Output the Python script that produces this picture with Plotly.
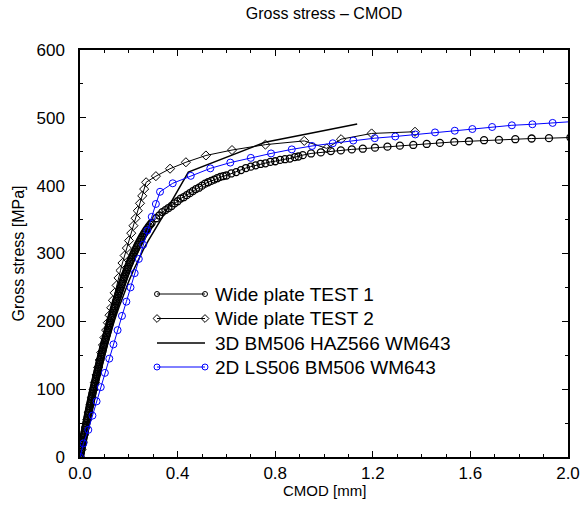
import plotly.graph_objects as go

# Wide plate TEST 1: dense logging up to the knee, sparser afterwards
test1_cmod = [
    0, 0.0013, 0.0025, 0.0038, 0.005, 0.0063, 0.0075, 0.0088, 0.010, 0.0114,
    0.0127, 0.0141, 0.0154, 0.0168, 0.0181, 0.0195, 0.0208, 0.0222, 0.0235, 0.0249,
    0.0262, 0.0276, 0.0289, 0.0303, 0.0317, 0.0332, 0.0346, 0.0360, 0.0374, 0.0389,
    0.0403, 0.0417, 0.0431, 0.0446, 0.0460, 0.0475, 0.0489, 0.0504, 0.0519, 0.0535,
    0.0551, 0.0567, 0.0583, 0.0599, 0.0615, 0.0631, 0.0647, 0.0663, 0.0679, 0.0695,
    0.0711, 0.0727, 0.0743, 0.0759, 0.0774, 0.0791, 0.0807, 0.0824, 0.0841, 0.0859,
    0.0876, 0.0893, 0.0910, 0.0928, 0.0945, 0.0962, 0.0979, 0.0997, 0.1015, 0.1034,
    0.1052, 0.1071, 0.1089, 0.1108, 0.1126, 0.1145, 0.1163, 0.1182, 0.1200, 0.1221,
    0.1241, 0.1261, 0.1281, 0.1302, 0.1322, 0.1342, 0.1362, 0.1383, 0.1403, 0.1423,
    0.1443, 0.1464, 0.1484, 0.1506, 0.1528, 0.1552, 0.1575, 0.1599, 0.1622, 0.1646,
    0.1669, 0.1693, 0.1716, 0.1740, 0.1763, 0.1787, 0.1811, 0.1837, 0.1863, 0.1890,
    0.1916, 0.1942, 0.1968, 0.1996, 0.2024, 0.2053, 0.2082, 0.2112, 0.2141, 0.2171,
    0.2200, 0.2234, 0.2267, 0.2300, 0.2333, 0.2367, 0.2400, 0.2439, 0.2477, 0.2516,
    0.2554, 0.2595, 0.2636, 0.2682, 0.2727, 0.2775, 0.2822, 0.2878, 0.2933,
    0.3125, 0.325, 0.3375, 0.35, 0.3625, 0.375, 0.3875, 0.40, 0.4125, 0.425,
    0.4375, 0.45, 0.4625, 0.475, 0.4875, 0.50, 0.5125, 0.525, 0.5375, 0.55,
    0.5625, 0.575, 0.5875, 0.60, 0.62, 0.64, 0.66, 0.68, 0.70, 0.72,
    0.74, 0.76, 0.78, 0.80, 0.82, 0.84, 0.86, 0.88, 0.895,
    0.913, 0.947, 0.987, 1.028, 1.069, 1.114, 1.159, 1.209, 1.260, 1.311,
    1.366, 1.421, 1.475, 1.534, 1.594, 1.656, 1.717, 1.784, 1.851, 1.922, 2.010,
]
test1_stress = [
    0, 2.5, 5, 7.5, 10, 12.5, 15, 17.5, 20, 22.5,
    25, 27.5, 30, 32.5, 35, 37.5, 40, 42.5, 45, 47.5,
    50, 52.5, 55, 57.5, 60, 62.5, 65, 67.5, 70, 72.5,
    75, 77.5, 80, 82.5, 85, 87.5, 90, 92.5, 95, 97.5,
    100, 102.5, 105, 107.5, 110, 112.5, 115, 117.5, 120, 122.5,
    125, 127.5, 130, 132.5, 135, 137.5, 140, 142.5, 145, 147.5,
    150, 152.5, 155, 157.5, 160, 162.5, 165, 167.5, 170, 172.5,
    175, 177.5, 180, 182.5, 185, 187.5, 190, 192.5, 195, 197.5,
    200, 202.5, 205, 207.5, 210, 212.5, 215, 217.5, 220, 222.5,
    225, 227.5, 230, 232.5, 235, 237.5, 240, 242.5, 245, 247.5,
    250, 252.5, 255, 257.5, 260, 262.5, 265, 267.5, 270, 272.5,
    275, 277.5, 280, 282.5, 285, 287.5, 290, 292.5, 295, 297.5,
    300, 302.5, 305, 307.5, 310, 312.5, 315, 317.5, 320, 322.5,
    325, 327.5, 330, 332.5, 335, 337.5, 340, 342.5, 345,
    352, 356, 361, 364, 367, 370, 374, 377, 381, 383,
    386, 389, 392, 395, 397, 400, 403, 405, 407, 409,
    411, 413, 414, 415, 418, 420, 423, 426, 428, 430,
    432, 433, 435, 436, 438, 439, 440, 442, 443,
    445, 447.5, 449, 451, 452, 453.5, 454.5, 456, 457.5, 459,
    460, 461.5, 463, 464.5, 465.5, 467, 467.5, 468.5, 469.5, 470, 471,
]

# Wide plate TEST 2
test2_cmod = [
    0, 0.006, 0.012, 0.018, 0.024, 0.030, 0.036, 0.042, 0.049, 0.055,
    0.061, 0.068, 0.074, 0.081, 0.087, 0.094, 0.100, 0.107, 0.114, 0.121,
    0.128, 0.135, 0.142, 0.150, 0.158, 0.166, 0.174, 0.183, 0.192, 0.201,
    0.210, 0.219, 0.228, 0.237, 0.246, 0.255, 0.263, 0.271,
    0.311, 0.369, 0.434, 0.516, 0.623, 0.760, 0.919, 1.011, 1.070, 1.195, 1.373,
]
test2_stress = [
    0, 11, 22, 33, 44, 55, 66, 77, 88, 99,
    110, 121, 132, 143, 154, 165, 176, 187, 198, 209,
    220, 231, 242, 253, 264, 275, 286, 297, 308, 319,
    330, 341, 352, 363, 374, 385, 395, 405,
    414, 425, 434.5, 444.5, 452.5, 460.5, 466, 455, 468.5, 477, 479.5,
]

# 3D model: BM506 / HAZ566 / WM643
fe3d_cmod = [
    0, 0.01, 0.02, 0.04, 0.06, 0.08, 0.10, 0.12, 0.14, 0.16,
    0.18, 0.20, 0.22, 0.24, 0.26, 0.28, 0.30, 0.32, 0.348, 0.444,
    0.758, 0.94, 1.136,
]
fe3d_stress = [
    0, 17, 34, 66, 97, 126, 152, 177, 200, 221,
    241, 259, 276, 292, 306, 319, 331, 343, 360, 420,
    464, 477, 491,
]

# 2D model: LS506 / BM506 / WM643
fe2d_cmod = [
    0, 0.014, 0.034, 0.051, 0.068, 0.085, 0.102, 0.120, 0.137, 0.154,
    0.172, 0.190, 0.207, 0.224, 0.241, 0.259, 0.276, 0.294, 0.311, 0.328,
    0.380, 0.454, 0.534, 0.616, 0.700, 0.783, 0.868, 0.951, 1.036, 1.120,
    1.208, 1.292, 1.374, 1.455, 1.536, 1.608, 1.689, 1.770, 1.854, 1.937, 2.020,
]
fe2d_stress = [
    0, 20, 40, 61, 82, 103, 124, 145, 166, 187,
    208, 229, 250, 271, 292, 313, 334, 354, 373, 391,
    403.5, 414.5, 425.5, 434, 441, 447.5, 453.5, 458.5, 462.5, 466.5,
    470, 472.5, 475.5, 478.5, 481, 483.5, 486.5, 489, 490.5, 492.5, 494.5,
]

series_names = [
    "Wide plate TEST 1",
    "Wide plate TEST 2",
    "3D BM506 HAZ566 WM643",
    "2D LS506 BM506 WM643",
]

x_ticks = [0.0, 0.4, 0.8, 1.2, 1.6, 2.0]
x_tick_text = ["0.0", "0.4", "0.8", "1.2", "1.6", "2.0"]
y_ticks = [0, 100, 200, 300, 400, 500, 600]

FONT = "Liberation Sans, Arial, sans-serif"
BLUE = "#0000ff"
W, H = 581, 507
L, R, T, B = 80, 13, 50, 50

styles = [
    dict(mode="lines+markers", line=dict(color="black", width=1),
         marker=dict(symbol="circle-open", size=7, color="black", line=dict(width=1.3))),
    dict(mode="lines+markers", line=dict(color="black", width=1),
         marker=dict(symbol="diamond-open", size=7, color="black", line=dict(width=1))),
    dict(mode="lines", line=dict(color="black", width=1.5)),
    dict(mode="lines+markers", line=dict(color=BLUE, width=1),
         marker=dict(symbol="circle-open", size=7, color=BLUE, line=dict(width=1))),
]
data = [
    (test1_cmod, test1_stress),
    (test2_cmod, test2_stress),
    (fe3d_cmod, fe3d_stress),
    (fe2d_cmod, fe2d_stress),
]

fig = go.Figure()
for name, (xs, ys), st in zip(series_names, data, styles):
    fig.add_trace(go.Scatter(x=xs, y=ys, name=name, showlegend=False, **st))

# Legend key drawn on a pixel-unit overlay axis spanning the plot area
key_x0, key_x1, text_x = 157, 205, 213
key_rows = [294, 318.5, 343, 367]
key_marker_size = [5, 6, None, 6]
for name, st, row, msize in zip(series_names, styles, key_rows, key_marker_size):
    kw = dict(mode=st["mode"], line=st["line"])
    if msize is not None:
        m = dict(st["marker"])
        m["size"] = msize
        m["line"] = dict(width=1)
        kw["marker"] = m
    fig.add_trace(go.Scatter(
        x=[key_x0, key_x1], y=[row, row], xaxis="x2", yaxis="y2",
        showlegend=False, hoverinfo="skip", cliponaxis=False, **kw,
    ))
    fig.add_annotation(
        x=text_x, y=row, xref="x2", yref="y2", text=name, showarrow=False,
        xanchor="left", yanchor="middle",
        font=dict(family=FONT, size=19, color="black"),
    )

axis_common = dict(
    showline=True, linecolor="black", linewidth=1.5, mirror="allticks",
    ticks="inside", ticklen=6, tickwidth=1, tickcolor="black",
    showgrid=False, zeroline=False, automargin=False,
    tickfont=dict(family=FONT, size=17, color="black"),
)

fig.update_layout(
    width=W, height=H,
    margin=dict(l=L, r=R, t=T, b=B),
    paper_bgcolor="white", plot_bgcolor="white",
    font=dict(family=FONT, color="black"),
    showlegend=False,
    title=dict(
        text="Gross stress \u2013 CMOD", x=0.5, xref="paper",
        y=1 - 13 / H, yref="container", yanchor="middle",
        font=dict(family=FONT, size=16, color="black"),
    ),
    xaxis=dict(
        range=[0, 2.0], tickvals=x_ticks, ticktext=x_tick_text,
        minor=dict(dtick=0.1, ticks="inside", ticklen=3, tickcolor="black"),
        ticklabelstandoff=0,
        **axis_common,
    ),
    yaxis=dict(
        range=[0, 600], tickvals=y_ticks,
        minor=dict(dtick=50, ticks="inside", ticklen=3, tickcolor="black"),
        ticklabelstandoff=10,
        **axis_common,
    ),
    xaxis2=dict(range=[L, W - R], overlaying="x", visible=False, fixedrange=True),
    yaxis2=dict(range=[H - B, T], overlaying="y", visible=False, fixedrange=True),
    annotations=list(fig.layout.annotations) + [
        dict(text="CMOD [mm]", x=0.5, y=-(490 - (H - B)) / (H - T - B),
             xref="paper", yref="paper", showarrow=False,
             xanchor="center", yanchor="middle",
             font=dict(family=FONT, size=15, color="black")),
        dict(text="Gross stress [MPa]", x=-(L - 18) / (W - L - R), y=0.5,
             xref="paper", yref="paper", showarrow=False, textangle=-90,
             xanchor="center", yanchor="middle",
             font=dict(family=FONT, size=16, color="black")),
    ],
)

fig.write_html("out.html")
